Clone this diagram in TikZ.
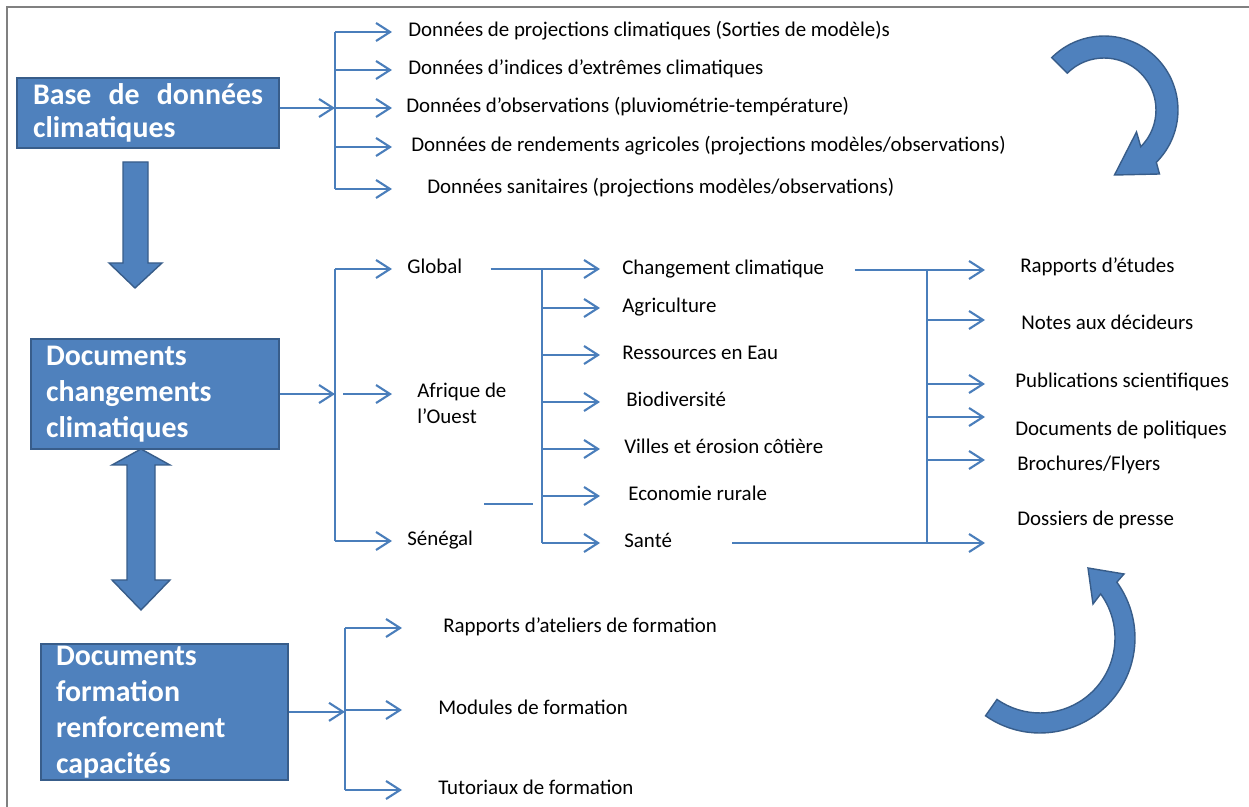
\documentclass[tikz,border=0pt]{standalone}
\usepackage{fontspec}
\setmainfont{Carlito}
\usepackage{tikz}
\usetikzlibrary{arrows.meta}
\usetikzlibrary{calc}
\usepackage{xcolor}
\definecolor{boxblue}{RGB}{79,129,189}
\definecolor{boxedge}{RGB}{56,93,138}
\definecolor{linkblue}{RGB}{74,126,187}
\newcommand{\branche}[3] % trunk, target, arrow end
{
	% arrow from the trunk to the arrow end, at the height of the target
	\draw[fleche] (#2 -| #1) -- (#2 -| #3);
}
\tikzset{
	lien/.style={draw=linkblue, line width=1.2pt},
	fleche/.style={lien, -{Straight Barb[length=2.8mm, width=3.6mm]}},
	txt/.style={anchor=west, inner sep=0pt, text height=1.6ex, text depth=0.45ex, font=\fontsize{11.9}{14.5}\selectfont},
	boite/.style={anchor=north west, draw=boxedge, line width=1.2pt, fill=boxblue, text=white, inner xsep=0.3cm, inner ysep=1pt, align=left, font=\bfseries\fontsize{17}{20.5}\selectfont},
	bloc/.style={fill=boxblue, draw=boxedge, line width=0.8pt}
}

\begin{document}
\begin{tikzpicture}[x=0.02cm, y=-0.02cm]
	% 1249 x 807 px, 1 px = 0.2 mm, y pointing down
	\useasboundingbox (0,0) rectangle (1249,807);
	\draw[gray, line width=0.8pt] (7,807) -- (7,7) -- (1249,7);
	
	% boxes
	\node[boite, text width=4.6cm, minimum width=5.24cm, minimum height=1.4cm, inner xsep=0.32cm, align=justify, font=\bfseries\fontsize{17}{19}\selectfont] (base) at (16,77) {Base de données climatiques};
	\node[boite, text width=4.36cm, minimum height=2.2cm] (chg) at (30,338) {Documents\\changements\\climatiques};
	\node[boite, text width=4.34cm, minimum height=2.7cm] (form) at (40,643) {Documents\\formation\\renforcement\\capacités};
	
	% block arrows
	\filldraw[bloc] (123,162) -- (148,162) -- (148,263) -- (162,263) -- (135,288) -- (109,263) -- (123,263) -- cycle;
	\filldraw[bloc] (141,449) -- (170,465) -- (155,465) -- (155,580) -- (170,580) -- (141,610) -- (112,580) -- (127,580) -- (127,465) -- (112,465) -- cycle;
	
	% donnees
	\coordinate (tronc1) at (335,32);
	\coordinate (bout1) at (392,32);
	\node[txt] (d1) at (408,32) {Données de projections climatiques (Sorties de modèle)s};
	\node[txt] (d2) at (408,70) {Données d’indices d’extrêmes climatiques};
	\node[txt] (d3) at (406,108) {Données d’observations (pluviométrie-température)};
	\node[txt] (d4) at (411,147) {Données de rendements agricoles (projections modèles/observations)};
	\node[txt] (d5) at (427,189) {Données sanitaires (projections modèles/observations)};
	\draw[fleche] (base.east |- d3.west) -- (d3.west -| tronc1);
	\draw[lien] (d1.west -| tronc1) -- (d5.west -| tronc1);
	\foreach \n in {d1,d2,d3,d4,d5} {\branche{tronc1}{\n.west}{bout1}}
	
	% echelles
	\coordinate (tronc2) at (335,268);
	\coordinate (bout2) at (392,268);
	\node[txt] (glob) at (407,269) {Global};
	\node[anchor=north west, inner sep=0pt, align=left, font=\fontsize{11.9}{14.5}\selectfont] (afr) at (417,383) {Afrique de\\l’Ouest};
	\node[txt] (sen) at (407,541) {Sénégal};
	\draw[fleche] (chg.east) -- (chg.east -| tronc2);
	\draw[lien] (glob.west -| tronc2) -- (sen.west -| tronc2);
	\branche{tronc2}{glob.west}{bout2}
	\branche{tronc2}{sen.west}{bout2}
	\draw[fleche] ($(chg.east -| tronc2)+(8,0)$) -- (chg.east -| bout2);
	
	% themes
	\coordinate (tronc3) at (542,268);
	\coordinate (bout3) at (600,268);
	\node[txt] (c1) at (622,270) {Changement climatique};
	\node[txt] (c2) at (622,308) {Agriculture};
	\node[txt] (c3) at (622,355) {Ressources en Eau};
	\node[txt] (c4) at (626,402) {Biodiversité};
	\node[txt] (c5) at (624,449) {Villes et érosion côtière};
	\node[txt] (c6) at (628,496) {Economie rurale};
	\node[txt] (c7) at (624,543) {Santé};
	\draw[fleche, shorten <=0.56cm] (glob.east) -- (glob.east -| bout3);
	\draw[lien] (glob.east -| tronc3) -- (c7.west -| tronc3);
	\foreach \n in {c2,c3,c4,c5,c6,c7} {\branche{tronc3}{\n.west}{bout3}}
	\coordinate (trait1) at (484,504);
	\coordinate (trait2) at (533,504);
	\draw[lien] (trait1) -- (trait2);
	
	% produits
	\coordinate (tronc4) at (927,270);
	\coordinate (bout4) at (985,270);
	\node[txt] (r1) at (1020,268) {Rapports d’études};
	\node[txt] (r2) at (1021,325) {Notes aux décideurs};
	\node[txt] (r3) at (1015,383) {Publications scientifiques};
	\node[txt] (r4) at (1015,431) {Documents de politiques};
	\node[txt] (r5) at (1017,466) {Brochures/Flyers};
	\node[txt] (r6) at (1017,521) {Dossiers de presse};
	\draw[fleche, shorten <=0.6cm] (c1.east) -- (c1.east -| bout4);
	\draw[fleche, shorten <=1.2cm] (c7.east) -- (c7.east -| bout4);
	\draw[lien] (c1.east -| tronc4) -- (c7.east -| tronc4);
	\foreach \y [count=\i] in {320,384,417,460}
	{
		\coordinate (q\i) at (927,\y);
		\draw[fleche] (q\i) -- (q\i -| bout4);
	}
	
	% formation
	\coordinate (tronc5) at (345,631);
	\coordinate (bout5) at (402,631);
	\node[txt] (f1) at (443,628) {Rapports d’ateliers de formation};
	\node[txt] (f2) at (438,710) {Modules de formation};
	\node[txt] (f3) at (438,790) {Tutoriaux de formation};
	\draw[fleche] (form.east) -- (form.east -| tronc5);
	\draw[lien] (f1.west -| tronc5) -- (f3.west -| tronc5);
	\foreach \n in {f1,f2,f3} {\branche{tronc5}{\n.west}{bout5}}
	
	% curved arrows
	\coordinate (cA) at (1104,110);
	\filldraw[bloc] ($(cA)+(135:1.48cm)$) arc[start angle=135, end angle=-45, radius=1.48cm] -- (1159.5,174) -- (1114.5,175) -- (1136.5,132) -- ($(cA)+(-45:1.04cm)$) arc[start angle=-45, end angle=135, radius=1.04cm] -- cycle;
	\coordinate (cB) at (1040,638);
	\filldraw[bloc] ($(cB)+(235:1.9cm)$) arc[start angle=235, end angle=396, radius=1.9cm] -- (1124,574) -- (1088,568) -- (1093,604) -- ($(cB)+(396:1.5cm)$) arc[start angle=396, end angle=235, radius=1.5cm] -- cycle;
\end{tikzpicture}
\end{document}
